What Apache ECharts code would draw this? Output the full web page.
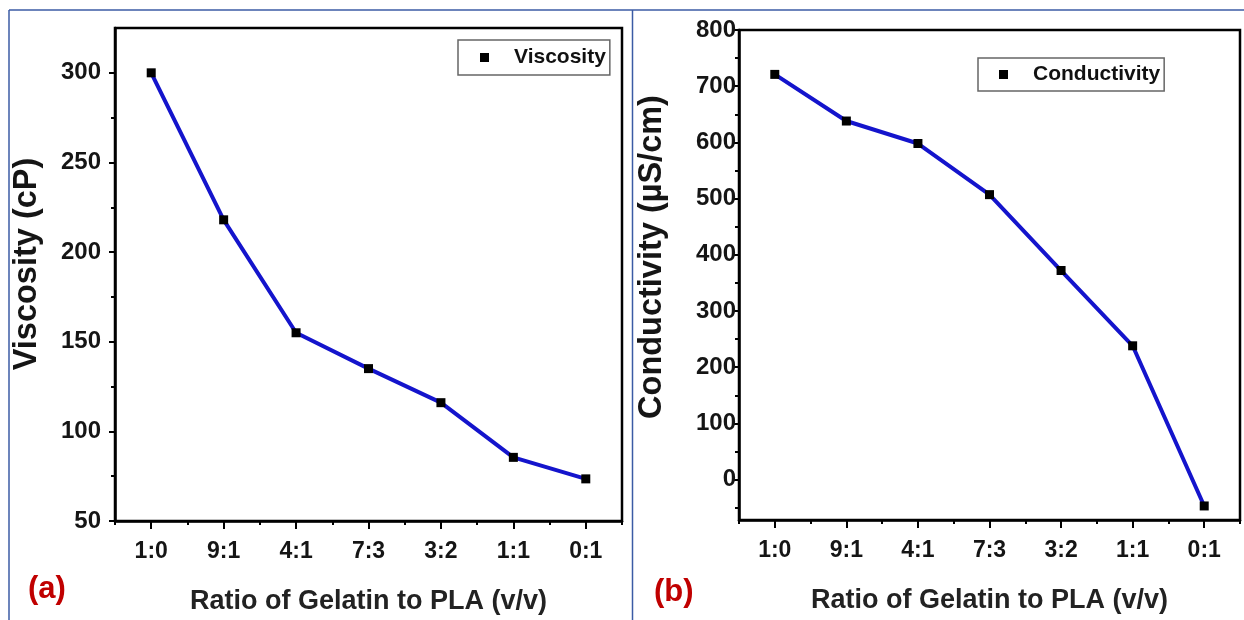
<!DOCTYPE html>
<html>
<head>
<meta charset="utf-8">
<script src="https://cdn.jsdelivr.net/npm/echarts@6/dist/echarts.min.js"></script>
<style>
html,body{margin:0;padding:0;background:#fff;}
#c{width:1244px;height:620px;}
</style>
</head>
<body>
<div id="c"></div>
<script>
// ---- data ----
const categories = ['1:0', '9:1', '4:1', '7:3', '3:2', '1:1', '0:1'];
const viscosity = [300, 218, 155, 135, 116, 85.5, 73.5];
const conductivity = [721, 638, 598, 507, 372, 238, -47];
const viscosityTicks = [50, 100, 150, 200, 250, 300];
const viscosityMinorTicks = [75, 125, 175, 225, 275];
const conductivityTicks = [0, 100, 200, 300, 400, 500, 600, 700, 800];
const conductivityMinorTicks = [-50, 50, 150, 250, 350, 450, 550, 650, 750];
const xTitle = 'Ratio of Gelatin to PLA (v/v)';

const FONT = '"Liberation Sans", Arial, sans-serif';
const LINE_BLUE = '#1414cc';
const FRAME_BLUE = '#3b5ba5';

const chart = echarts.init(document.getElementById('c'), null, {renderer: 'canvas'});

function mainX(gridIndex, gap) {
  return {
    type: 'category', gridIndex: gridIndex, data: categories, boundaryGap: true,
    position: 'bottom',
    axisLine: {show: true, onZero: false, lineStyle: {color: '#000', width: 2.5}},
    axisTick: {show: true, alignWithLabel: true, inside: false, length: 8, lineStyle: {color: '#000', width: 2}},
    axisLabel: {show: true, margin: 19, fontFamily: FONT, fontSize: 23, fontWeight: 'bold', color: '#151515'},
    splitLine: {show: false},
    name: xTitle, nameLocation: 'middle', nameGap: 67,
    nameTextStyle: {fontFamily: FONT, fontSize: 27, fontWeight: 'bold', color: '#222'}
  };
}
function minorX(gridIndex) {
  return {
    type: 'category', gridIndex: gridIndex, data: categories, boundaryGap: true,
    position: 'bottom',
    axisLine: {show: false, onZero: false},
    axisTick: {show: true, alignWithLabel: false, inside: false, length: 4, lineStyle: {color: '#000', width: 2}},
    axisLabel: {show: false},
    splitLine: {show: false}
  };
}
function mainY(gridIndex, min, max, ticks, margin) {
  return {
    type: 'value', gridIndex: gridIndex, min: min, max: max, position: 'left',
    axisLine: {show: true, onZero: false, lineStyle: {color: '#000', width: 2.5}},
    axisTick: {show: true, inside: false, length: 6, customValues: ticks, lineStyle: {color: '#000', width: 2}},
    axisLabel: {show: true, margin: margin, customValues: ticks, fontFamily: FONT, fontSize: 24, fontWeight: 'bold', color: '#151515'},
    splitLine: {show: false}
  };
}
function minorY(gridIndex, min, max, ticks) {
  return {
    type: 'value', gridIndex: gridIndex, min: min, max: max, position: 'left', offset: 0,
    axisLine: {show: false, onZero: false},
    axisTick: {show: true, inside: false, length: 4, customValues: ticks, lineStyle: {color: '#000', width: 2}},
    axisLabel: {show: false},
    splitLine: {show: false}
  };
}

const option = {
  animation: false,
  backgroundColor: '#fff',
  grid: [
    {left: 115, top: 28, width: 507, height: 493, show: true, borderColor: '#000', borderWidth: 2.5, backgroundColor: 'transparent'},
    {left: 739, top: 30, width: 501, height: 490, show: true, borderColor: '#000', borderWidth: 2.5, backgroundColor: 'transparent'}
  ],
  xAxis: [mainX(0), minorX(0), mainX(1), minorX(1)],
  yAxis: [
    mainY(0, 50, 325, viscosityTicks, 14),
    minorY(0, 50, 325, viscosityMinorTicks),
    mainY(1, -72, 800, conductivityTicks, 3),
    minorY(1, -72, 800, conductivityMinorTicks)
  ],
  legend: [
    {
      data: ['Viscosity'], left: 458, top: 40, orient: 'horizontal',
      icon: 'rect', itemWidth: 9, itemHeight: 9, itemGap: 0,
      padding: [7, 4, 7, 22],
      borderColor: '#666', borderWidth: 1.5, backgroundColor: '#fff',
      textStyle: {fontFamily: FONT, fontSize: 21, fontWeight: 'bold', color: '#111', padding: [0, 0, 0, 20]}
    },
    {
      data: ['Conductivity'], left: 978, top: 58, orient: 'horizontal',
      icon: 'rect', itemWidth: 9, itemHeight: 9, itemGap: 0,
      padding: [6, 4, 6, 21],
      borderColor: '#666', borderWidth: 1.5, backgroundColor: '#fff',
      textStyle: {fontFamily: FONT, fontSize: 21, fontWeight: 'bold', color: '#111', padding: [0, 0, 0, 20]}
    }
  ],
  series: [
    {
      name: 'Viscosity', type: 'line', xAxisIndex: 0, yAxisIndex: 0, data: viscosity,
      symbol: 'rect', symbolSize: 9, showAllSymbol: true,
      lineStyle: {color: LINE_BLUE, width: 4},
      itemStyle: {color: '#000'},
      emphasis: {disabled: true}
    },
    {
      name: 'Conductivity', type: 'line', xAxisIndex: 2, yAxisIndex: 2, data: conductivity,
      symbol: 'rect', symbolSize: 9, showAllSymbol: true,
      lineStyle: {color: LINE_BLUE, width: 4},
      itemStyle: {color: '#000'},
      emphasis: {disabled: true}
    }
  ],
  graphic: [
    {type: 'line', shape: {x1: 9, y1: 10, x2: 1244, y2: 10}, style: {stroke: FRAME_BLUE, lineWidth: 1.5}, z: 0},
    {type: 'line', shape: {x1: 9, y1: 10, x2: 9, y2: 620}, style: {stroke: FRAME_BLUE, lineWidth: 1.5}, z: 0},
    {type: 'line', shape: {x1: 632.5, y1: 10, x2: 632.5, y2: 620}, style: {stroke: FRAME_BLUE, lineWidth: 1.5}, z: 0},
    {type: 'text', x: 27.5, y: 264, rotation: Math.PI / 2,
     style: {text: 'Viscosity (cP)', fontFamily: FONT, fontSize: 32.5, fontWeight: 'bold', fill: '#151515', align: 'center', verticalAlign: 'middle'}},
    {type: 'text', x: 652, y: 257, rotation: Math.PI / 2,
     style: {text: 'Conductivity (µS/cm)', fontFamily: FONT, fontSize: 32.5, fontWeight: 'bold', fill: '#151515', align: 'center', verticalAlign: 'middle'}},
    {type: 'text', x: 28, y: 589,
     style: {text: '(a)', fontFamily: FONT, fontSize: 31, fontWeight: 'bold', fill: '#c00000', align: 'left', verticalAlign: 'middle'}},
    {type: 'text', x: 654, y: 592,
     style: {text: '(b)', fontFamily: FONT, fontSize: 31, fontWeight: 'bold', fill: '#c00000', align: 'left', verticalAlign: 'middle'}}
  ]
};
chart.setOption(option);
</script>
</body>
</html>
